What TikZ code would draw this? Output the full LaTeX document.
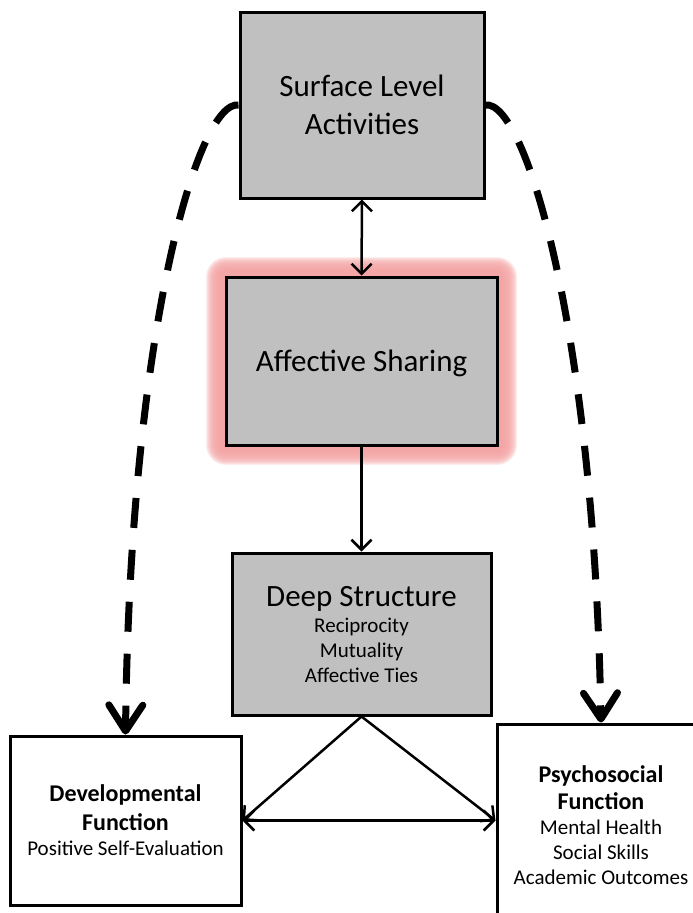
\documentclass[tikz,border=0pt]{standalone}
\usepackage{fontspec}
\setmainfont{Carlito}
\usetikzlibrary{arrows.meta}
\definecolor{boxgray}{HTML}{C0C0C0}
\definecolor{glowcol}{HTML}{F4A3A3}
\newcommand\myboldline[1]{{\fontsize{24}{28}\selectfont\bfseries #1}}
\newcommand\mytitleline[1]{{\fontsize{31}{36}\selectfont #1}}
\begin{document}
\begin{tikzpicture}[x=1pt,y=-1pt,
  box/.style={draw=black,line width=3pt,fill=boxgray,inner sep=0pt,align=center},
  wbox/.style={draw=black,line width=3pt,fill=white,inner sep=0pt,align=center},
  conn/.style={line width=2.5pt,-{Straight Barb[length=10pt,width=20pt]}},
  connboth/.style={line width=2.5pt,{Straight Barb[length=10pt,width=20pt]}-{Straight Barb[length=10pt,width=20pt]}},
  dashc/.style={line width=7pt,dash pattern=on 30pt off 22pt,-{Straight Barb[length=26pt,width=34pt,round]}},
  title/.style={font=\fontsize{31}{38}\selectfont},
  small/.style={font=\fontsize{21}{25}\selectfont}]
\clip (0,0) rectangle (693,913);
\path[use as bounding box] (0,0) rectangle (693,913);
% glow around Affective Sharing
\foreach \i in {1,...,20}
  \fill[glowcol,opacity=0.2,rounded corners={\i pt}] (226-\i,277-\i) rectangle (497+\i,445+\i);
% boxes
\node[box,title,minimum width=244pt,minimum height=186pt,text depth=-8pt] (surf) at (362,105) {Surface Level\\Activities};
\node[box,title,minimum width=271pt,minimum height=168pt,text depth=-10pt] (aff) at (361.5,361) {Affective Sharing};
\node[box,small,minimum width=259pt,minimum height=162pt,text depth=-15pt] (deep) at (361.5,634)
  {\mytitleline{Deep Structure}\\[1pt]Reciprocity\\Mutuality\\Affective Ties};
\node[wbox,small,minimum width=231pt,minimum height=169pt,text depth=-9pt] (dev) at (125.5,820.5)
  {\myboldline{Developmental}\\[4pt]\myboldline{Function}\\Positive Self-Evaluation};
\node[wbox,small,minimum width=208pt,minimum height=211pt,text depth=8pt] (psy) at (601,829.5)
  {\myboldline{Psychosocial}\\[2pt]\myboldline{Function}\\Mental Health\\Social Skills\\Academic Outcomes};
% connectors
\draw[connboth] (surf.south) -- (aff.north);
\draw[conn] (aff.south) -- (deep.north);
\draw[conn] (deep.south) -- (dev.east);
\draw[conn] (deep.south) -- (psy.west |- dev.east);
\draw[connboth] (dev.east) -- (psy.west |- dev.east);
% dashed curves
\draw[dashc] (surf.west) .. controls +(-40,-5) and +(4.5,-406) .. (dev.north);
\draw[dashc] (surf.east) .. controls +(40,-5) and +(-7,-394) .. (psy.north);
\end{tikzpicture}
\end{document}
